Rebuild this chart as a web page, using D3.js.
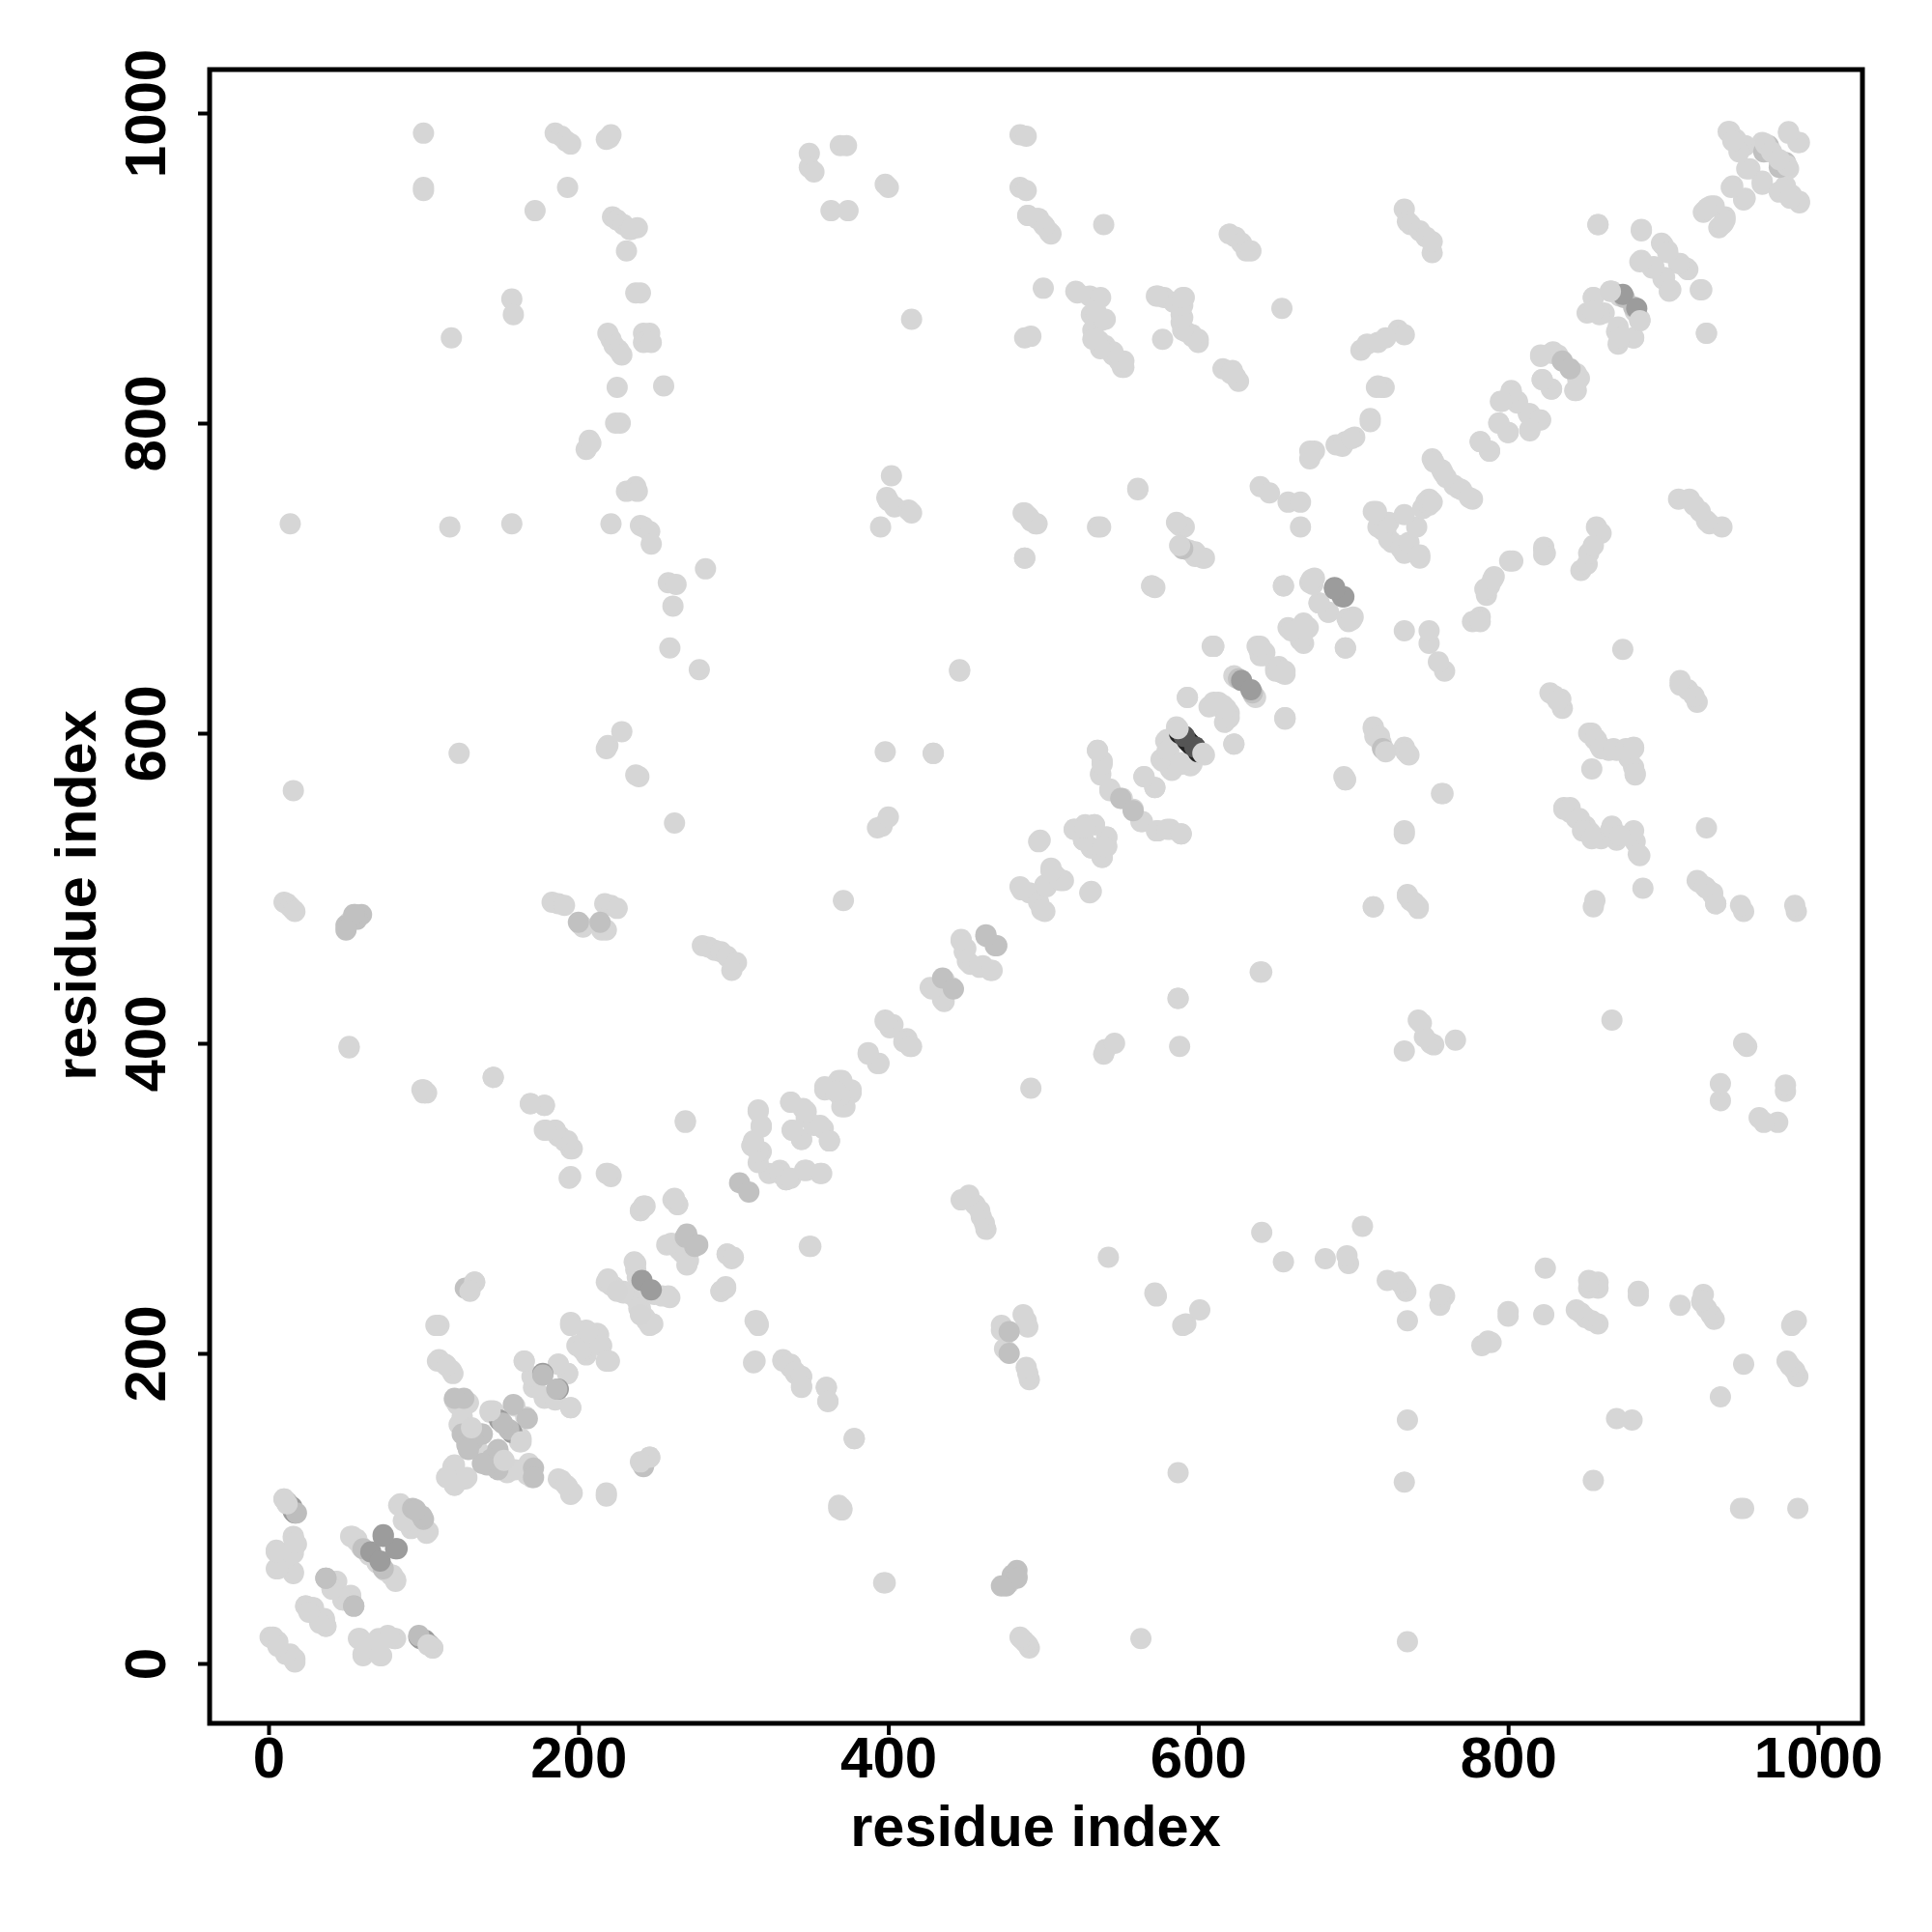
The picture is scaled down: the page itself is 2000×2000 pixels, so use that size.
<!DOCTYPE html>
<html><head><meta charset="utf-8"><script src="https://cdn.jsdelivr.net/npm/d3@7"></script>
<style>html,body{margin:0;background:#fff}svg{display:block}text{font-family:"Liberation Sans",Arial,sans-serif;font-weight:700;fill:#000}</style></head>
<body><svg id="c" width="2000" height="2000"></svg>
<script>
const tickValues=[0,200,400,600,800,1000];
const axisTitle="residue index";
// residue pairs (i<j); the contact map is symmetric
const lightContacts=[[10,491],[12,490],[14,488],[16,486],[17,485],[16,563],[14,735],[52,478],[52,397],[100,987],[100,952],[100,950],[100,370],[102,368],[118,855],[117,733],[123,587],[145,378],[157,880],[158,870],[157,735],[172,937],[169,361],[178,360],[178,344],[185,344],[187,340],[191,337],[195,332],[194,313],[185,987],[189,985],[192,982],[195,980],[193,952],[183,491],[187,490],[191,489],[201,477],[203,475],[207,789],[205,783],[208,787],[215,473],[218,473],[217,490],[221,489],[225,487],[219,592],[218,590],[228,601],[218,983],[221,986],[220,984],[219,858],[221,854],[223,850],[226,847],[228,844],[222,933],[225,931],[229,928],[233,925],[238,926],[234,925],[231,911],[225,823],[227,800],[224,800],[221,735],[231,756],[237,759],[238,756],[240,734],[242,733],[246,730],[247,722],[237,884],[240,884],[242,858],[246,858],[242,852],[247,852],[255,824],[258,697],[263,696],[261,682],[259,655],[282,706],[278,641],[237,573],[239,572],[262,542],[221,315],[218,316],[240,292],[243,295],[261,299],[264,296],[269,350],[280,463],[284,462],[288,460],[292,459],[296,456],[302,452],[299,447],[349,974],[349,965],[352,962],[363,937],[374,937],[369,979],[373,979],[371,492],[398,954],[400,952],[415,867],[395,733],[399,752],[400,750],[404,746],[413,744],[415,742],[402,766],[398,588],[393,539],[396,540],[400,546],[429,587],[446,641],[485,986],[489,985],[485,952],[489,950],[490,934],[496,932],[500,928],[504,923],[500,887],[488,855],[492,856],[487,742],[490,740],[492,737],[496,735],[488,713],[539,928],[521,885],[530,882],[537,881],[531,870],[537,866],[540,867],[532,860],[536,853],[540,850],[545,844],[549,840],[552,836],[535,733],[573,882],[578,881],[584,878],[591,881],[589,870],[589,865],[592,859],[596,857],[600,854],[577,854],[570,695],[572,694],[561,758],[587,735],[591,733],[591,719],[594,718],[598,714],[603,713],[593,623],[620,922],[624,920],[628,916],[631,911],[634,911],[616,835],[622,834],[624,830],[654,874],[640,759],[646,755],[658,749],[666,749],[666,733],[655,695],[609,656],[623,593],[656,610],[733,938],[735,930],[737,928],[743,924],[747,920],[751,910],[751,917],[729,860],[733,857],[705,847],[709,851],[716,852],[721,855],[716,824],[720,823],[711,801],[689,786],[695,788],[701,791],[673,780],[675,782],[713,743],[716,733],[721,731],[725,723],[731,719],[736,723],[741,733],[743,715],[745,745],[749,747],[749,751],[751,777],[758,768],[765,760],[770,757],[775,752],[803,711],[823,718],[823,715],[785,693],[790,699],[777,672],[782,672],[943,988],[947,983],[981,988],[987,981],[953,979],[964,981],[969,975],[978,968],[980,964],[956,964],[964,954],[975,949],[988,942],[982,945],[945,953],[952,944],[929,939],[933,940],[940,931],[926,936],[938,928],[858,928],[886,924],[899,916],[903,911],[915,900],[910,903],[885,904],[893,900],[901,894],[905,886],[925,886],[928,858],[862,871],[855,881],[867,885],[851,871],[882,872],[885,866],[870,859],[881,855],[872,855],[821,844],[829,846],[844,832],[845,828],[843,821],[822,828],[828,822],[802,821],[795,814],[806,814],[813,806],[820,802],[814,796],[794,800],[800,794],[782,788],[788,782],[610,656],[639,654],[640,650],[654,640],[650,642],[623,637],[636,624],[609,618],[614,617],[620,613],[617,607],[695,655],[713,604],[717,598],[734,588],[736,586],[695,570],[757,561],[733,537],[739,491],[735,495],[742,488],[713,488],[640,446],[587,429],[586,604],[580,596],[577,582],[583,576],[595,579],[589,580],[581,589],[565,572],[572,565],[535,589],[538,582],[537,574],[543,564],[558,551],[563,543],[573,537],[580,538],[589,535],[520,538],[527,541],[533,541],[541,533],[526,531],[531,526],[538,520],[539,527],[531,498],[513,505],[16,82],[18,77],[5,73],[16,71],[11,67],[5,61],[16,59],[54,82],[57,79],[70,65],[75,60],[80,57],[82,53],[84,102],[87,92],[92,88],[103,85],[44,53],[41,48],[53,43],[48,41],[24,37],[29,36],[36,28],[37,24],[33,26],[3,17],[6,14],[1,17],[14,5],[16,3],[11,6],[58,16],[74,16],[81,16],[70,14],[61,6],[72,5],[78,17],[103,12],[106,10],[109,195],[114,193],[118,189],[120,170],[124,170],[129,168],[122,167],[119,127],[115,120],[128,120],[120,115],[130,150],[134,140],[150,129],[154,123],[143,162],[163,145],[159,166],[167,122],[159,125],[165,195],[187,193],[193,187],[172,178],[178,171],[185,170],[195,165],[187,119],[196,110],[192,115],[218,110],[218,108],[246,133],[205,199],[220,195],[195,219],[205,215],[213,212],[203,202],[214,206],[218,195],[218,246],[223,243],[229,240],[237,258],[234,238],[239,229],[244,221],[248,219],[249,238],[254,237],[259,236],[257,270],[267,265],[271,260],[292,240],[295,242],[296,264],[300,262],[314,221],[316,219],[314,195],[332,196],[337,193],[340,188],[344,185],[344,179],[349,269],[360,178],[361,169],[378,145],[368,100],[370,99],[398,52],[312,334],[316,356],[318,347],[318,330],[323,316],[330,316],[334,312],[337,313],[338,344],[337,362],[344,338],[345,358],[347,352],[346,318],[357,316],[356,347],[362,337],[359,370],[368,376],[372,359],[376,370],[369,366],[387,393],[394,387],[398,415],[403,412],[410,401],[414,398],[427,436],[441,436],[435,428],[447,466],[450,461],[451,453],[459,449],[467,447],[485,501],[491,497],[499,486],[507,509],[497,530],[501,502],[511,505],[638,656],[643,652],[652,640],[656,640],[658,668],[666,660],[671,668],[672,697],[675,700],[678,684],[684,678],[696,674],[699,673],[610,620],[616,618],[600,852],[596,856],[590,860],[590,868],[590,876],[590,881],[574,882],[626,827],[621,832],[551,836],[552,840],[545,846],[537,848],[532,854],[539,867],[534,872],[522,884],[505,922],[501,927],[497,932],[490,934]];
const midContacts=[[56,483],[60,483],[304,310],[275,269],[270,277],[435,442],[463,470],[469,463],[626,635],[12,104],[37,55],[55,37],[93,100],[99,95],[61,74],[125,148],[137,148],[128,141],[148,138],[144,132],[138,129],[167,158],[171,126],[171,120],[242,127],[480,57],[476,50],[483,55],[473,50],[719,590],[965,975],[875,881],[835,840],[550,558],[968,979],[478,214],[478,200]];
const darkContacts=[[66,72],[74,83],[82,74],[97,17],[15,101],[98,16],[149,157],[177,187],[241,247],[628,634],[688,694],[693,688],[874,883]];
const midTopContacts=[[18,97],[155,151],[186,177]];
const blackContacts=[[588,600],[595,593]];
const darkestContacts=[[591,598],[598,591]];
const topContacts=[[603,587],[246,133],[152,131],[163,143],[106,10],[103,12],[240,225],[240,130],[980,966],[970,975],[885,866],[721,588]];

const xS=d3.scaleLinear().domain([0,1000]).range([278,1882]);
const yS=d3.scaleLinear().domain([0,1000]).range([1722,117]);
const svg=d3.select("#c");
const g=svg.append("g");
const layers=[[lightContacts,"#d6d6d6"],[midContacts,"#c1c1c1"],[darkContacts,"#9c9c9c"],[midTopContacts,"#bdbdbd"],[blackContacts,"#222222"],[darkestContacts,"#555555"],[topContacts,"#d5d5d5"]];
for(const [list,fill] of layers){
  const pts=list.flatMap(([i,j])=>[[i,j],[j,i]]);
  g.selectAll(null).data(pts).join("circle").attr("cx",d=>xS(d[0])).attr("cy",d=>yS(d[1])).attr("r",11).attr("fill",fill);
}
svg.append("rect").attr("x",217).attr("y",72).attr("width",1711).attr("height",1712).attr("fill","none").attr("stroke","#000").attr("stroke-width",5);
const ax=svg.append("g").attr("transform","translate(0,1784)").call(d3.axisBottom(xS).tickValues(tickValues).tickFormat(d3.format("d")).tickSizeOuter(0).tickSize(12));
const ay=svg.append("g").attr("transform","translate(217,0)").call(d3.axisLeft(yS).tickValues(tickValues).tickFormat(d3.format("d")).tickSizeOuter(0).tickSize(12));
for(const a of [ax,ay]){a.select(".domain").remove();a.selectAll("line").attr("stroke","#000").attr("stroke-width",4);a.selectAll("text").style("font-size","60px").style("font-family",'"Liberation Sans"').style("font-weight","700").attr("fill","#000");}
ax.selectAll("text").attr("y",56).attr("dy",0).attr("text-anchor","middle");
ay.selectAll("text").attr("x",0).attr("y",0).attr("dy",0).attr("text-anchor","middle").attr("transform","translate(-46,0) rotate(-90)");
svg.append("text").attr("x",1072).attr("y",1911).attr("text-anchor","middle").style("font-size","59.5px").text(axisTitle);
svg.append("text").attr("transform","translate(99,927) rotate(-90)").attr("text-anchor","middle").style("font-size","59.5px").text(axisTitle);
</script></body></html>
